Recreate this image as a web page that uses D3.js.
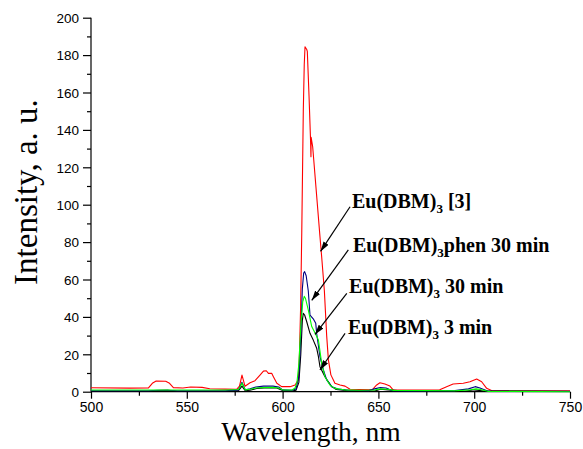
<!DOCTYPE html>
<html>
<head>
<meta charset="utf-8">
<script src="https://cdn.jsdelivr.net/npm/d3@7/dist/d3.min.js"></script>
<style>
  html, body { margin: 0; padding: 0; background: #fff; }
  svg { display: block; }
</style>
</head>
<body>
<svg id="chart" width="583" height="449"></svg>
<script>
// ---------------- data ----------------
const xTicks = [500, 550, 600, 650, 700, 750];
const yTicks = [0, 20, 40, 60, 80, 100, 120, 140, 160, 180, 200];

// Eu(DBM)3 [3]  (red)
const redWl = [500, 520, 530, 532, 534, 539, 541, 543, 548, 552, 558, 562, 570, 576, 577.5, 578.8, 580.4, 583, 585.6, 588.2, 590, 591.5, 592.6, 594.3, 595.2, 597, 599.5, 603.9, 606.5, 608.2, 608.8, 609.4, 610, 610.8, 611.3, 611.7, 612.6, 612.9, 613.8, 614.6, 614.8, 614.9, 615.7, 619.5, 620.4, 621.8, 623, 623.9, 625.2, 626.5, 627.3, 630, 632.6, 635.2, 640, 647, 649.1, 650.8, 653.4, 656, 657.8, 665, 675, 682, 685.6, 689, 694.3, 697.8, 701.3, 703.9, 706.5, 709, 720, 750];
const redI  = [2.1, 1.9, 2.0, 4.5, 5.7, 5.6, 4.5, 2.2, 2.0, 2.5, 2.3, 1.6, 1.4, 1.3, 3.0, 8.9, 2.9, 4.8, 5.9, 8.9, 11.0, 11.2, 9.8, 9.8, 8.0, 4.5, 2.7, 2.7, 3.6, 6.3, 20, 45, 85, 150, 175, 184.5, 183, 182, 158, 134, 125.7, 136, 131, 83, 72, 54, 30, 17, 9, 6.3, 4.5, 3.6, 3.0, 1.3, 1.2, 1.3, 3.6, 4.8, 4.1, 3.0, 0.9, 0.9, 0.9, 1.0, 2.7, 4.1, 4.5, 5.3, 6.8, 5.3, 1.8, 0.6, 0.5, 0.5];

// Eu(DBM)3phen 30 min (blue)
const blueWl = [500, 530, 535, 540, 545, 570, 577, 578.8, 580.5, 583, 586, 590, 595, 598, 600, 605, 607, 608.5, 609.5, 610.3, 611, 611.5, 612.3, 613.4, 614.3, 616, 617.3, 617.8, 619.5, 621.3, 623, 625.6, 629, 635, 645, 648, 651, 654, 657, 665, 690, 697, 700.5, 703, 707, 720, 750];
const blueI  = [0.5, 0.5, 0.8, 0.8, 0.5, 0.5, 1.0, 5.0, 1.0, 1.5, 2.5, 3.0, 3.0, 2.5, 1.0, 0.8, 1.5, 8, 30, 55, 63.5, 64.2, 62, 54, 41, 39, 36.6, 31, 18.7, 11.6, 6.3, 2.7, 1.4, 0.8, 0.6, 1.5, 2.2, 2.0, 0.6, 0.4, 0.6, 1.5, 2.7, 2.0, 0.4, 0.2, 0.2];

// Eu(DBM)3 30 min (green)
const greenWl = [500, 530, 570, 577, 578.8, 580.5, 583, 586, 590, 595, 598, 600, 605, 606.5, 607.5, 608.5, 609.5, 610.5, 611.3, 611.9, 613.4, 615.2, 617, 618.7, 620.4, 622.1, 624.7, 627.3, 632, 640, 648, 651, 655, 658, 690, 698, 701, 704, 707, 750];
const greenI  = [0.9, 0.9, 0.9, 1.2, 4.5, 1.0, 1.3, 2.0, 2.2, 2.3, 2.0, 1.0, 0.9, 2.0, 5, 15, 35, 48, 51, 50, 43.7, 34.8, 31.2, 27.6, 15.2, 8, 3.6, 1.8, 1.0, 0.8, 0.9, 1.5, 1.3, 0.7, 0.5, 1.0, 1.5, 1.0, 0.2, 0.0];

// Eu(DBM)3 3 min (black)
const blackWl = [500, 530, 535, 540, 545, 570, 577, 578.8, 580.5, 583, 587, 592, 597, 600, 605, 607, 608.5, 609.5, 610.3, 610.8, 611.5, 612.6, 614.3, 616, 617.8, 618.7, 619.5, 622.1, 623.9, 625.6, 628, 635, 648, 651, 655, 665, 695, 700, 705, 750];
const blackI  = [0.2, 0.2, 0.6, 0.7, 0.2, 0.2, 0.6, 3.0, 0.5, 0.8, 1.8, 2.2, 2.0, 0.6, 0.3, 0.8, 5, 20, 38, 41.9, 41, 37.4, 31.2, 27.6, 23.2, 18.7, 13.4, 8, 5.3, 2.7, 1.2, 0.4, 0.3, 1.3, 1.0, 0.2, 0.2, 1.0, 0.4, 0.1];

// annotation labels (main text, subscript, rest) with anchor and arrow in data coords
const labelMain = ["Eu(DBM)", "Eu(DBM)", "Eu(DBM)", "Eu(DBM)"];
const labelSub  = ["3", "3", "3", "3"];
const labelRest = [" [3]", "phen 30 min", " 30 min", " 3 min"];
const labelWl   = [636.2, 636.7, 634.7, 634.1];
const labelI    = [98.2, 74.7, 52.8, 30.9];
const arrowFromWl = [635.2, 634.3, 633.5, 632.6];
const arrowFromI  = [98.9, 75.8, 52.6, 31.2];
const arrowToWl   = [619.8, 615.2, 616.9, 619.5];
const arrowToI    = [75.0, 48.8, 30.6, 11.6];

// ---------------- chart ----------------
const svg = d3.select("#chart");
svg.append("rect").attr("width", 583).attr("height", 449).attr("fill", "#fff");

const x = d3.scaleLinear().domain([500, 750]).range([91, 570]);
const y = d3.scaleLinear().domain([0, 200]).range([391.7, 17.7]);

const sans = "'Liberation Sans', Arial, sans-serif";
const serif = "'Liberation Serif', 'Times New Roman', serif";

// x axis
const xAxisG = svg.append("g").attr("transform", `translate(0,${y(0)})`);
xAxisG.call(d3.axisBottom(x).tickValues(d3.range(500, 751, 25)).tickSize(4).tickFormat(""));
xAxisG.call(g => g.selectAll(".tick").filter(d => xTicks.includes(d)).select("line").attr("y2", 7));
xAxisG.call(g => g.selectAll(".tick").filter(d => xTicks.includes(d)).append("text")
  .attr("y", 20.5).attr("fill", "#000").attr("text-anchor", "middle")
  .style("font-family", sans).style("font-size", "14px").text(d => d));
xAxisG.select(".domain").attr("d", `M${x(500)},0H${x(750)}`);

// y axis
const yAxisG = svg.append("g").attr("transform", `translate(${x(500)},0)`);
yAxisG.call(d3.axisLeft(y).tickValues(d3.range(0, 201, 10)).tickSize(4).tickFormat(""));
yAxisG.call(g => g.selectAll(".tick").filter(d => yTicks.includes(d)).select("line").attr("x2", -8));
yAxisG.call(g => g.selectAll(".tick").filter(d => yTicks.includes(d)).append("text")
  .attr("x", -12).attr("dy", "0.35em").attr("fill", "#000").attr("text-anchor", "end")
  .style("font-family", sans).style("font-size", "13.5px").text(d => d));
yAxisG.select(".domain").attr("d", `M0,${y(0)}V${y(200)}`);
svg.selectAll(".domain, .tick line").attr("stroke", "#000").attr("stroke-width", 1.2);

// titles
svg.append("text").attr("x", 311).attr("y", 441).attr("text-anchor", "middle")
  .style("font-family", serif).style("font-size", "27.5px").text("Wavelength, nm");
svg.append("text").attr("transform", "translate(37,192) rotate(-90)").attr("text-anchor", "middle")
  .style("font-family", serif).style("font-size", "33px").text("Intensity, a. u.");

// series
const line = d3.line().x(d => x(d[0])).y(d => y(d[1]));
const series = [
  { wl: redWl, v: redI, color: "#ff0000" },
  { wl: blackWl, v: blackI, color: "#000000" },
  { wl: blueWl, v: blueI, color: "#000080" },
  { wl: greenWl, v: greenI, color: "#00ff00" }
];
series.forEach(s => {
  svg.append("path").datum(d3.zip(s.wl, s.v))
    .attr("fill", "none").attr("stroke", s.color).attr("stroke-width", 1.1)
    .attr("stroke-linejoin", "round").attr("d", line);
});

// arrows
svg.append("defs").append("marker").attr("id", "ah")
  .attr("markerUnits", "userSpaceOnUse").attr("viewBox", "0 0 10 6")
  .attr("markerWidth", 10).attr("markerHeight", 6).attr("refX", 10).attr("refY", 3)
  .attr("orient", "auto")
  .append("path").attr("d", "M0,0L10,3L0,6Z").attr("fill", "#000");

labelMain.forEach((m, i) => {
  svg.append("line")
    .attr("x1", x(arrowFromWl[i])).attr("y1", y(arrowFromI[i]))
    .attr("x2", x(arrowToWl[i])).attr("y2", y(arrowToI[i]))
    .attr("stroke", "#000").attr("stroke-width", 1.2).attr("marker-end", "url(#ah)");
  const t = svg.append("text").attr("x", x(labelWl[i])).attr("y", y(labelI[i]))
    .style("font-family", serif).style("font-size", "20px").style("font-weight", "bold");
  t.append("tspan").text(m);
  t.append("tspan").attr("dy", 5).style("font-size", "13px").text(labelSub[i]);
  t.append("tspan").attr("dy", -5).text(labelRest[i]);
});
</script>
</body>
</html>
